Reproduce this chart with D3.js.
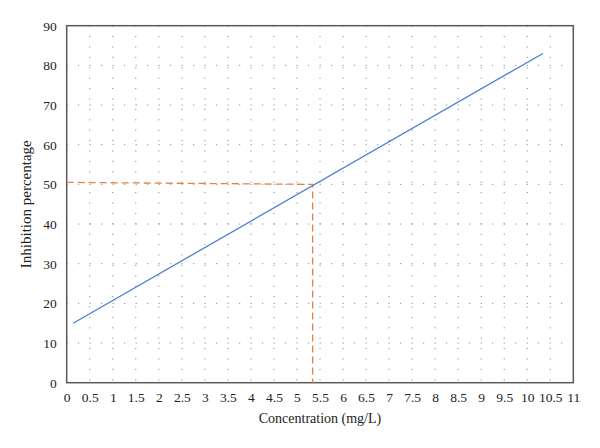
<!DOCTYPE html>
<html>
<head>
<meta charset="utf-8">
<script src="https://cdn.jsdelivr.net/npm/d3@7"></script>
<style>
  body { margin: 0; background: #fff; }
  text { font-family: "Liberation Serif", "DejaVu Serif", serif; fill: #222; }
</style>
</head>
<body>
<div id="container"></div>
<script>
// fitted line (concentration vs inhibition)
var lineX = [0.14, 10.34];
var lineY = [15, 83];
// IC50 guide (dashed)
var guideX = [0, 5.34, 5.34];
var guideY = [50.5, 50, 0];
// ticks
var xTicks = d3.range(0, 11.01, 0.5);
var yTicks = d3.range(0, 91, 10);

var margin = {top: 25.7, right: 26.7, bottom: 65.3, left: 66.7},
    width = 600 - margin.left - margin.right,
    height = 448 - margin.top - margin.bottom;

var svg = d3.select("#container")
  .append("svg")
    .attr("width", 600)
    .attr("height", 448)
  .append("g")
    .attr("transform", "translate(" + margin.left + "," + margin.top + ")");

var x = d3.scaleLinear().domain([0, 11]).range([0, width]);
var y = d3.scaleLinear().domain([0, 90]).range([height, 0]);

// dotted grid
svg.append("g")
  .selectAll("line")
  .data(xTicks.filter(function (d) { return d > 0 && d < 11; }))
  .enter().append("line")
    .attr("x1", function (d) { return x(d); })
    .attr("x2", function (d) { return x(d); })
    .attr("y1", 0)
    .attr("y2", height)
    .attr("stroke", "#777")
    .attr("stroke-width", 1)
    .attr("stroke-dasharray", "1,9.4");

svg.append("g")
  .selectAll("line")
  .data(yTicks.filter(function (d) { return d > 0 && d < 90; }))
  .enter().append("line")
    .attr("x1", 0)
    .attr("x2", width)
    .attr("y1", function (d) { return y(d); })
    .attr("y2", function (d) { return y(d); })
    .attr("stroke", "#777")
    .attr("stroke-width", 1)
    .attr("stroke-dasharray", "1,10.5");

// X axis
var xAxis = svg.append("g")
  .attr("transform", "translate(0," + height + ")")
  .call(d3.axisBottom(x).tickValues(xTicks).tickSize(0).tickPadding(10)
    .tickFormat(function (d) { return d3.format("")(d); }));
xAxis.attr("font-family", "Liberation Serif").attr("font-size", 13.5);
xAxis.select(".domain").remove();
xAxis.selectAll("text").attr("fill", "#222");

// Y axis
var yAxis = svg.append("g")
  .call(d3.axisLeft(y).tickValues(yTicks).tickSize(0).tickPadding(10));
yAxis.attr("font-family", "Liberation Serif").attr("font-size", 13.5);
yAxis.select(".domain").remove();
yAxis.selectAll("text").attr("fill", "#222");

// frame
svg.append("rect")
  .attr("x", 0).attr("y", 0)
  .attr("width", width).attr("height", height)
  .attr("fill", "none")
  .attr("stroke", "#5a5a5a")
  .attr("stroke-width", 1.5);

// guide dashed
svg.append("path")
  .datum(d3.zip(guideX, guideY))
  .attr("fill", "none")
  .attr("stroke", "#E8803A")
  .attr("stroke-width", 1.3)
  .attr("stroke-dasharray", "7,4")
  .attr("d", d3.line()
    .x(function (d) { return x(d[0]); })
    .y(function (d) { return y(d[1]); }));

// fitted line
svg.append("path")
  .datum(d3.zip(lineX, lineY))
  .attr("fill", "none")
  .attr("stroke", "#4A7FD4")
  .attr("stroke-width", 1.3)
  .attr("d", d3.line()
    .x(function (d) { return x(d[0]); })
    .y(function (d) { return y(d[1]); }));

// axis titles
svg.append("text")
  .attr("x", width / 2)
  .attr("y", height + 40.5)
  .attr("text-anchor", "middle")
  .style("font-size", "14px")
  .text("Concentration (mg/L)");

svg.append("text")
  .attr("transform", "translate(" + (31.5 - margin.left) + "," + (height / 2) + ") rotate(-90)")
  .attr("text-anchor", "middle")
  .style("font-size", "15px")
  .text("Inhibition percentage");
</script>
</body>
</html>
